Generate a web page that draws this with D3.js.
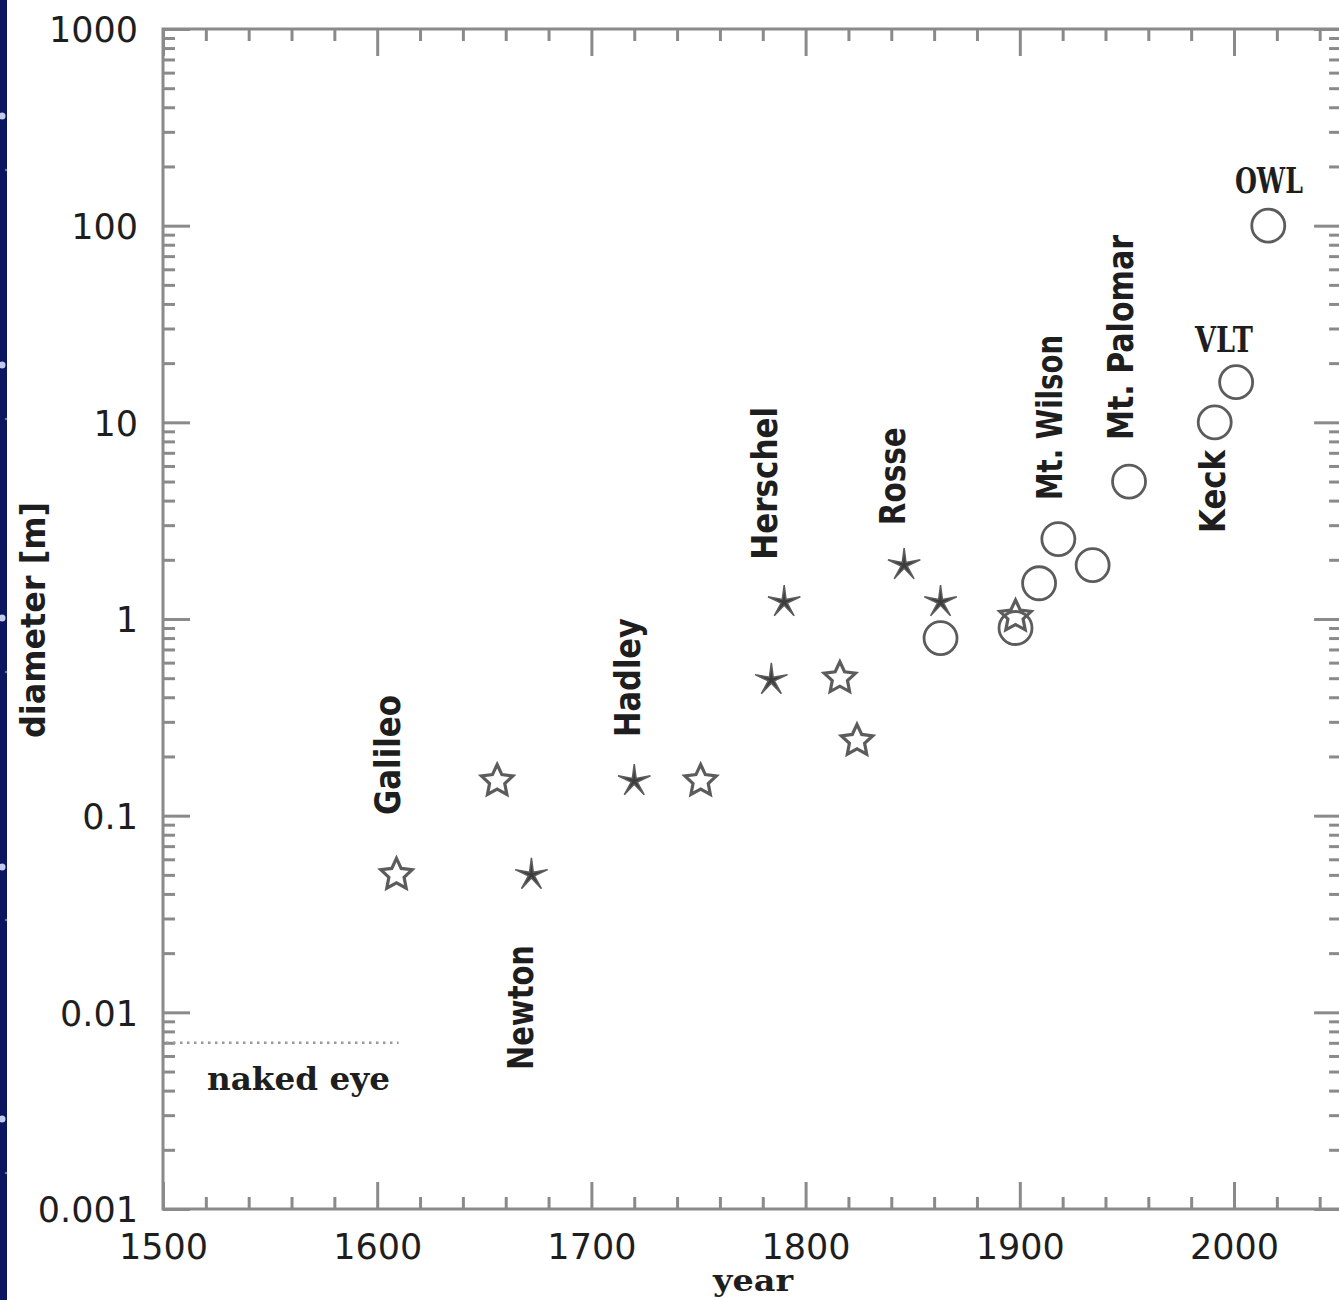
<!DOCTYPE html>
<html><head><meta charset="utf-8">
<script src="https://cdn.jsdelivr.net/npm/d3@7"></script>
<style>
html,body{margin:0;padding:0;background:#fff;}
svg{display:block;}
</style></head>
<body>
<svg id="chart" width="1339" height="1300"></svg>
<script>
// ---- data ----
const openStarYears   = [1609, 1656, 1751, 1816, 1824, 1898];
const openStarDiam    = [0.05, 0.15, 0.15, 0.50, 0.24, 1.03];
const filledStarYears = [1672, 1720, 1784, 1790, 1846, 1863];
const filledStarDiam  = [0.05, 0.15, 0.49, 1.22, 1.88, 1.22];
const circleYears     = [1863, 1898, 1909, 1918, 1934, 1951, 1991, 2001, 2016];
const circleDiam      = [0.80, 0.90, 1.52, 2.55, 1.88, 5.0, 10, 16, 100];

const xMajorTicks = [1500, 1600, 1700, 1800, 1900, 2000];
const yMajorTicks = [0.001, 0.01, 0.1, 1, 10, 100, 1000];
const yTickLabels = ["0.001", "0.01", "0.1", "1", "10", "100", "1000"];

// rotated telescope names: anchor (year, diameter) at the start of the baseline
const rotNames  = ["Galileo", "Newton", "Hadley", "Herschel", "Rosse", "Mt. Wilson", "Mt. Palomar", "Keck"];
const rotYears  = [1610.6, 1672.7, 1722.7, 1786.6, 1846.4, 1919.7, 1952.8, 1995.8];
const rotDiam   = [0.1007, 0.00509, 0.251, 2.0, 3.0, 4.03, 8.13, 2.74];
const rotLen    = [120, 125, 119, 153, 98, 165, 205, 83];
// horizontal names: anchor at baseline centre
const horNames  = ["VLT", "OWL"];
const horYears  = [1995.3, 2016.3];
const horDiam   = [22.8, 146.6];
const horLen    = [58, 68];

const nakedEyeDiam = 0.007;
const nakedEyeYears = [1500, 1610];
const nakedEyeLabel = {text: "naked eye", year: 1520.5, diam: 0.00403};

// ---- layout ----
const svg = d3.select("#chart");
const L = 163, T = 29, B = 1209;
const R = L + 550 * 2.142;

const x = d3.scaleLinear().domain([1500, 2050]).range([L, R]);
const y = d3.scaleLog().domain([0.001, 1000]).range([B, T]);

const axisColor = "#8a8a8a";
const textColor = "#1e1e1e";
const markColor = "#5c5c5c";

// left navy strip with faint dots
svg.append("rect").attr("x", 0).attr("y", 0).attr("width", 7).attr("height", 1300).attr("fill", "#0b1560");
[116, 365, 618, 867, 1119].forEach(v => {
  svg.append("circle").attr("cx", 2).attr("cy", v).attr("r", 3.5).attr("fill", "#d5defa").attr("opacity", 0.9);
});
[170, 419, 672, 920, 1173].forEach(v => {
  svg.append("circle").attr("cx", 6).attr("cy", v).attr("r", 1.2).attr("fill", "#7d8cd0").attr("opacity", 0.8);
});

// minor ticks
const xMinor = d3.range(1500, 2051, 20).filter(v => v % 100 !== 0);
const yMinor = [];
for (let e = -3; e < 3; e++) for (let m = 2; m <= 9; m++) yMinor.push(m * Math.pow(10, e));

function styleAxis(g) {
  g.selectAll(".domain").remove();
  g.selectAll(".tick line").attr("stroke", axisColor).attr("stroke-width", 3);
  g.selectAll(".tick text").attr("fill", textColor)
    .style("font-family", "'DejaVu Sans', sans-serif").style("font-size", "35px");
}

// bottom
svg.append("g").attr("transform", `translate(0,${B})`)
  .call(d3.axisBottom(x).tickValues(xMajorTicks).tickSize(-27).tickSizeOuter(0).tickPadding(25).tickFormat(d3.format("d")))
  .call(styleAxis);
svg.append("g").attr("transform", `translate(0,${B})`)
  .call(d3.axisBottom(x).tickValues(xMinor).tickSize(-12).tickSizeOuter(0).tickFormat(""))
  .call(styleAxis);
// top
svg.append("g").attr("transform", `translate(0,${T})`)
  .call(d3.axisTop(x).tickValues(xMajorTicks).tickSize(-27).tickSizeOuter(0).tickFormat(""))
  .call(styleAxis);
svg.append("g").attr("transform", `translate(0,${T})`)
  .call(d3.axisTop(x).tickValues(xMinor).tickSize(-12).tickSizeOuter(0).tickFormat(""))
  .call(styleAxis);
// left
svg.append("g").attr("transform", `translate(${L},0)`)
  .call(d3.axisLeft(y).tickValues(yMajorTicks).tickSize(-27).tickSizeOuter(0).tickPadding(25)
        .tickFormat((d, i) => yTickLabels[i]))
  .call(styleAxis)
  .call(g => g.selectAll(".tick text").attr("dy", "0.37em"));
svg.append("g").attr("transform", `translate(${L},0)`)
  .call(d3.axisLeft(y).tickValues(yMinor).tickSize(-12).tickSizeOuter(0).tickFormat(""))
  .call(styleAxis);
// right
svg.append("g").attr("transform", `translate(${R},0)`)
  .call(d3.axisRight(y).tickValues(yMajorTicks).tickSize(-27).tickSizeOuter(0).tickFormat(""))
  .call(styleAxis);
svg.append("g").attr("transform", `translate(${R},0)`)
  .call(d3.axisRight(y).tickValues(yMinor).tickSize(-12).tickSizeOuter(0).tickFormat(""))
  .call(styleAxis);

// frame
svg.append("rect").attr("x", L).attr("y", T).attr("width", R - L).attr("height", B - T)
  .attr("fill", "none").attr("stroke", axisColor).attr("stroke-width", 3);

// axis titles
svg.append("text").attr("x", 753).attr("y", 1291).attr("text-anchor", "middle")
  .attr("textLength", 80).attr("lengthAdjust", "spacingAndGlyphs")
  .style("font-family", "'DejaVu Serif', serif").style("font-weight", "bold").style("font-size", "30px")
  .attr("fill", textColor).text("year");
svg.append("text").attr("transform", "translate(45,738) rotate(-90)").attr("text-anchor", "start")
  .attr("textLength", 236).attr("lengthAdjust", "spacingAndGlyphs")
  .style("font-family", "'DejaVu Sans', sans-serif").style("font-weight", "bold").style("font-size", "34px")
  .attr("fill", textColor).text("diameter [m]");

// naked eye line + label
svg.append("line").attr("x1", x(nakedEyeYears[0]) + 3).attr("x2", x(nakedEyeYears[1]))
  .attr("y1", y(nakedEyeDiam)).attr("y2", y(nakedEyeDiam))
  .attr("stroke", "#999").attr("stroke-width", 2.5).attr("stroke-dasharray", "2.5,4.5");
svg.append("text").attr("x", x(nakedEyeLabel.year)).attr("y", y(nakedEyeLabel.diam))
  .attr("textLength", 183).attr("lengthAdjust", "spacingAndGlyphs")
  .style("font-family", "'DejaVu Serif', serif").style("font-weight", "bold").style("font-size", "32px")
  .attr("fill", textColor).text(nakedEyeLabel.text);

// star path
function starPath(Ro, Ri) {
  const pts = [];
  for (let i = 0; i < 10; i++) {
    const r = i % 2 === 0 ? Ro : Ri;
    const a = -Math.PI / 2 + i * Math.PI / 5;
    pts.push([r * Math.cos(a), r * Math.sin(a)]);
  }
  return "M" + pts.map(p => p[0].toFixed(2) + "," + p[1].toFixed(2)).join("L") + "Z";
}

// markers
svg.append("g").selectAll("path").data(openStarYears.map((yr, i) => [yr, openStarDiam[i]]))
  .join("path").attr("d", starPath(16.5, 8))
  .attr("transform", d => `translate(${x(d[0])},${y(d[1])})`)
  .attr("fill", "none").attr("stroke", markColor).attr("stroke-width", 3.2).attr("stroke-linejoin", "miter");

svg.append("g").selectAll("path").data(filledStarYears.map((yr, i) => [yr, filledStarDiam[i]]))
  .join("path").attr("d", starPath(17, 3.2))
  .attr("transform", d => `translate(${x(d[0])},${y(d[1])})`)
  .attr("fill", "#3c3c3c").attr("stroke", markColor).attr("stroke-width", 1.5);

svg.append("g").selectAll("circle").data(circleYears.map((yr, i) => [yr, circleDiam[i]]))
  .join("circle").attr("cx", d => x(d[0])).attr("cy", d => y(d[1])).attr("r", 16.5)
  .attr("fill", "none").attr("stroke", markColor).attr("stroke-width", 2.8);

// rotated labels
rotNames.forEach((name, i) => {
  svg.append("text")
    .attr("transform", `translate(${x(rotYears[i])},${y(rotDiam[i])}) rotate(-90)`)
    .attr("text-anchor", "start")
    .attr("textLength", rotLen[i]).attr("lengthAdjust", "spacingAndGlyphs")
    .style("font-family", "'DejaVu Sans', sans-serif").style("font-weight", "bold").style("font-size", "36px")
    .attr("fill", textColor).text(name);
});
horNames.forEach((name, i) => {
  svg.append("text")
    .attr("x", x(horYears[i])).attr("y", y(horDiam[i])).attr("text-anchor", "middle")
    .attr("textLength", horLen[i]).attr("lengthAdjust", "spacingAndGlyphs")
    .style("font-family", "'DejaVu Serif', serif").style("font-weight", "bold").style("font-size", "36px")
    .attr("fill", textColor).text(name);
});
</script>
</body></html>
